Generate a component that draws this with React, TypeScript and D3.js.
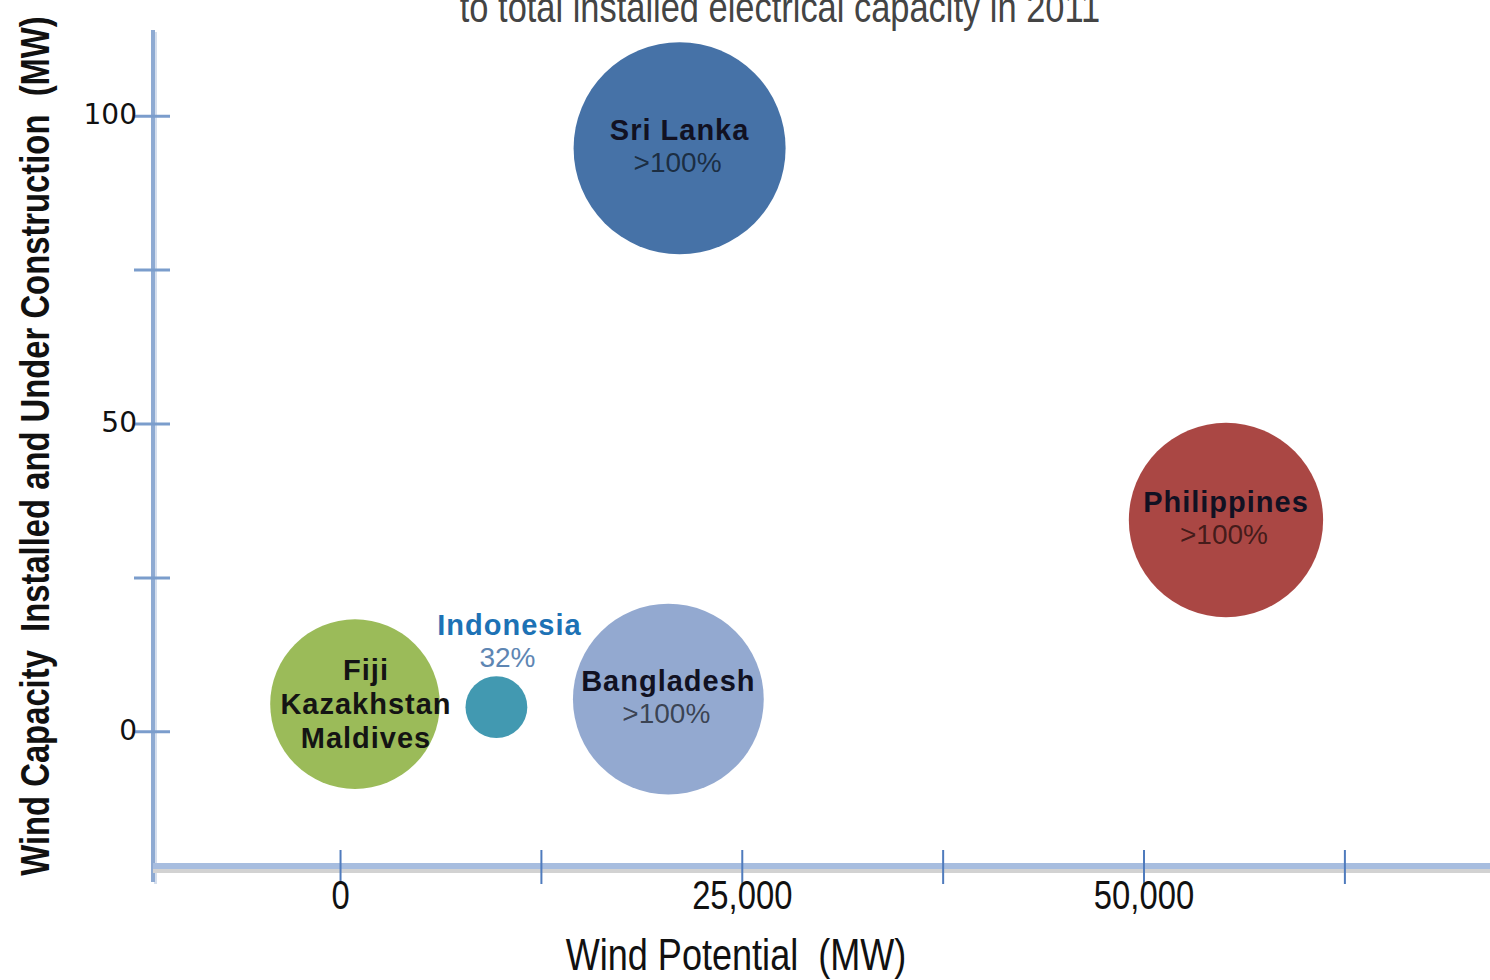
import React from 'react';
import * as d3 from 'd3';

// Bubble data
const countries = ['Sri Lanka', 'Philippines', 'Bangladesh', 'Fiji\nKazakhstan\nMaldives', 'Indonesia'];
const windPotential = [21100, 55100, 20400, 900, 9700]; // MW
const windCapacity = [94.8, 34.4, 5.3, 4.5, 4.0]; // MW installed + under construction
const bubbleSize = [100, 84, 81, 64, 8.5];
const ratioLabels = ['>100%', '>100%', '>100%', '', '32%'];
const colors = ['#4672a7', '#aa4744', '#93a9d0', '#9bbb59', '#4299b1'];

const xTicks = [0, 12500, 25000, 37500, 50000, 62500];
const xTickLabels = ['0', '', '25,000', '', '50,000', ''];
const yTicks = [0, 25, 50, 75, 100];
const yTickLabels = ['0', '', '50', '', '100'];

const title = 'to total installed electrical capacity in 2011';
const xTitle = 'Wind Potential  (MW)';
const yTitle = 'Wind Capacity  Installed and Under Construction  (MW)';

const W = 1490;
const H = 980;

// no narrow face installed, so squeeze Liberation Sans horizontally
const sans = '"Liberation Sans", Arial, sans-serif';
const squeeze = 0.82;

export default function App() {
  const plotLeft = 153;
  const plotBottom = 866;

  const x = d3.scaleLinear().domain([-11670, 71530]).range([plotLeft, W]);
  const y = d3.scaleLinear().domain([-24.4, 114]).range([882, 30]);
  const r = d3.scaleSqrt().domain([0, d3.max(bubbleSize) as number]).range([0, 106]);

  const bubbles = countries.map((name, i) => ({
    name,
    cx: x(windPotential[i]),
    cy: y(windCapacity[i]),
    r: r(bubbleSize[i]),
    ratio: ratioLabels[i],
    color: colors[i],
  }));

  return (
    <div style={{ position: 'fixed', left: 0, top: 0, width: W, height: H, background: '#fff' }}>
      <svg width={W} height={H} style={{ display: 'block' }}>
        <rect width={W} height={H} fill="#fff" />

        {/* title (first line is cut off above the frame) */}
        <text
          transform={`translate(780,22) scale(${squeeze},1)`}
          textAnchor="middle"
          fontFamily={sans}
          fontSize={42}
          fill="#444"
        >
          {title}
        </text>

        {/* y axis */}
        <line x1={plotLeft + 2.5} x2={plotLeft + 2.5} y1={32} y2={884} stroke="#d4deed" strokeWidth={3} />
        <line x1={plotLeft} x2={plotLeft} y1={30} y2={882} stroke="#8eaad2" strokeWidth={4} />
        {yTicks.map((t, i) => (
          <g key={'yt' + t}>
            <line x1={134} x2={170} y1={y(t)} y2={y(t)} stroke="#7b9dcc" strokeWidth={3} />
            {yTickLabels[i] && (
              <text
                x={137}
                y={y(t) + 8}
                textAnchor="end"
                fontFamily='"DejaVu Sans", Verdana, sans-serif'
                fontSize={28}
                fill="#111"
              >
                {yTickLabels[i]}
              </text>
            )}
          </g>
        ))}

        {/* x axis */}
        <line x1={plotLeft} x2={W} y1={plotBottom + 5} y2={plotBottom + 5} stroke="#d2d2d2" strokeWidth={4} />
        <line x1={plotLeft} x2={W} y1={plotBottom} y2={plotBottom} stroke="#a7bddf" strokeWidth={6} />
        {xTicks.map((t, i) => (
          <g key={'xt' + t}>
            <line x1={x(t)} x2={x(t)} y1={850} y2={884} stroke="#4f7bbd" strokeWidth={2} />
            {xTickLabels[i] && (
              <text
                transform={`translate(${x(t)},909) scale(${squeeze},1)`}
                textAnchor="middle"
                fontFamily={sans}
                fontSize={40}
                fill="#111"
              >
                {xTickLabels[i]}
              </text>
            )}
          </g>
        ))}

        {/* axis titles */}
        <text
          transform={`translate(736,970) scale(${squeeze},1)`}
          textAnchor="middle"
          fontFamily={sans}
          fontSize={44}
          fill="#111"
          style={{ whiteSpace: 'pre' }}
        >
          {xTitle}
        </text>
        <text
          transform={`translate(49,446) rotate(-90) scale(${squeeze},1)`}
          textAnchor="middle"
          fontFamily={sans}
          fontWeight="bold"
          fontSize={40}
          fill="#111"
          style={{ whiteSpace: 'pre' }}
        >
          {yTitle}
        </text>

        {/* bubbles */}
        {bubbles.map((b) => (
          <circle key={'c' + b.name} cx={b.cx} cy={b.cy} r={b.r} fill={b.color} />
        ))}

        {/* bubble labels */}
        {bubbles.map((b) => {
          const lines = b.name.split('\n');
          if (lines.length > 1) {
            return (
              <g key={'l' + b.name}>
                {lines.map((ln, j) => (
                  <text
                    key={ln}
                    x={b.cx + 11}
                    y={b.cy - 24 + j * 34}
                    textAnchor="middle"
                    fontFamily={sans}
                    fontWeight="bold"
                    fontSize={29}
                    letterSpacing={1}
                    fill="#141414"
                  >
                    {ln}
                  </text>
                ))}
              </g>
            );
          }
          const above = b.r < 50;
          const nameY = above ? b.cy - 72 : b.cy - 8;
          const dx = above ? 13 : 0;
          return (
            <g key={'l' + b.name}>
              <text
                x={b.cx + dx}
                y={nameY}
                textAnchor="middle"
                fontFamily={sans}
                fontWeight="bold"
                fontSize={29}
                letterSpacing={1}
                fill={above ? '#1d72b5' : '#111122'}
              >
                {b.name}
              </text>
              <text
                x={b.cx + dx - 2}
                y={nameY + 32}
                textAnchor="middle"
                fontFamily={sans}
                fontSize={28}
                fill={above ? '#5e86b3' : '#000'}
                fillOpacity={above ? 1 : 0.62}
              >
                {b.ratio}
              </text>
            </g>
          );
        })}
      </svg>
    </div>
  );
}
